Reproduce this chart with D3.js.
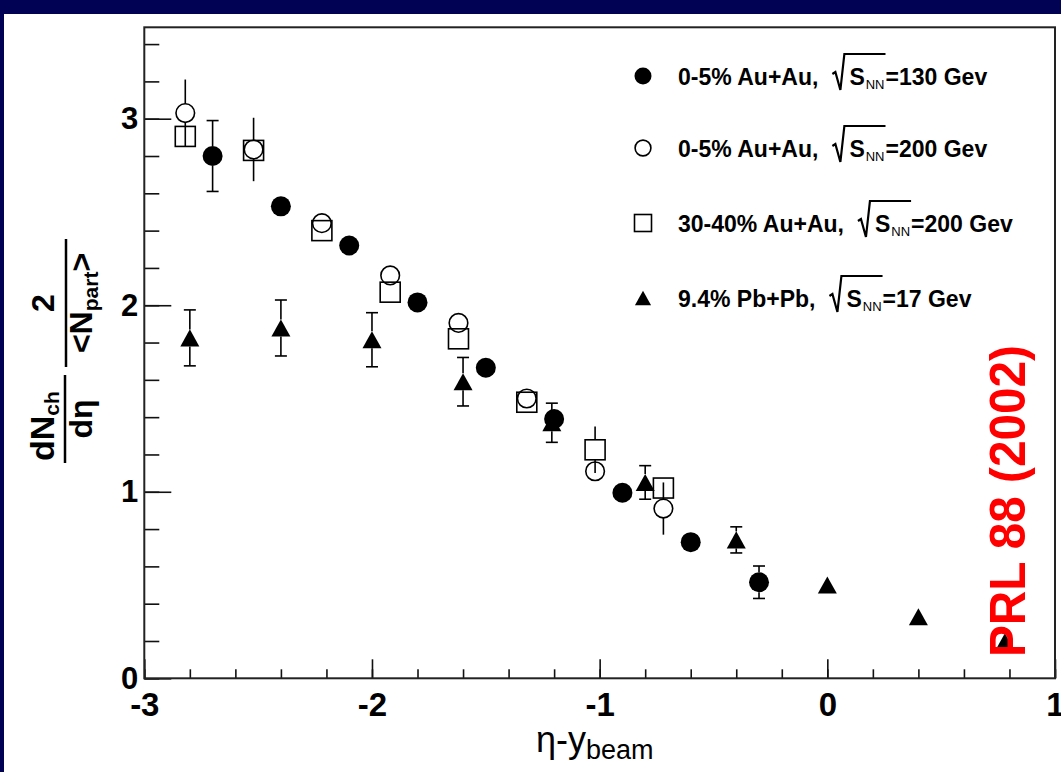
<!DOCTYPE html>
<html>
<head>
<meta charset="utf-8">
<script src="https://cdn.jsdelivr.net/npm/d3@7"></script>
<style>
  html, body { margin: 0; padding: 0; background: #ffffff; }
  svg { display: block; }
  text { font-family: "Liberation Sans", Arial, Helvetica, sans-serif; }
</style>
</head>
<body>
<svg id="chart" width="1061" height="772"></svg>
<script>
// dN_ch/dη · 2/<N_part> versus η - y_beam

// 0-5% Au+Au, sqrt(s_NN) = 130 GeV (filled circles)
const etaAu130 = [-2.7, -2.4, -2.1, -1.8, -1.5, -1.2, -0.9, -0.6, -0.3];
const valAu130 = [2.80, 2.53, 2.32, 2.015, 1.665, 1.39, 0.995, 0.73, 0.515];
const errAu130 = [0.19, 0.04, 0.03, 0.03, 0.03, 0.03, 0.03, 0.03, 0.087];

// 0-5% Au+Au, sqrt(s_NN) = 200 GeV (open circles)
const etaAu200 = [-2.82, -2.52, -2.22, -1.92, -1.62, -1.32, -1.02, -0.72];
const valAu200 = [3.03, 2.835, 2.44, 2.16, 1.905, 1.50, 1.11, 0.91];
const errAu200 = [0.18, 0.17, 0.04, 0.04, 0.04, 0.04, 0.04, 0.14];

// 30-40% Au+Au, sqrt(s_NN) = 200 GeV (open squares)
const etaAu200p = [-2.82, -2.52, -2.22, -1.92, -1.62, -1.32, -1.02, -0.72];
const valAu200p = [2.905, 2.83, 2.40, 2.07, 1.82, 1.48, 1.225, 1.02];
const errAu200p = [0.04, 0.04, 0.04, 0.04, 0.04, 0.04, 0.125, 0.04];

// 9.4% Pb+Pb, sqrt(s_NN) = 17 GeV (filled triangles)
const etaPb17 = [-2.8, -2.4, -2.0, -1.6, -1.21, -0.8, -0.4, 0.0, 0.4, 0.78];
const valPb17 = [1.825, 1.878, 1.815, 1.59, 1.37, 1.05, 0.742, 0.50, 0.33, 0.196];
const errPb17 = [0.15, 0.15, 0.145, 0.13, 0.105, 0.09, 0.07, 0.03, 0.02, 0.02];

// axis ticks
const xMajor = [-3, -2, -1, 0, 1];
const xMinor = d3.range(-3, 1.0001, 0.2).map(v => +v.toFixed(1));
const yMajor = [0, 1, 2, 3];
const yMinor = d3.range(0, 3.41, 0.2).map(v => +v.toFixed(1));

// legend entries
const legendLabels = ["0-5% Au+Au,", "0-5% Au+Au,", "30-40% Au+Au,", "9.4% Pb+Pb,"];
const legendEnergies = ["=130 Gev", "=200 Gev", "=200 Gev", "=17 Gev"];
const legendShapes = ["dot", "circle", "square", "triangle"];

const svg = d3.select("#chart");
const W = 1061, H = 772;

// slide background with navy edge
svg.append("rect").attr("width", W).attr("height", H).attr("fill", "#020255");
svg.append("rect").attr("x", 4).attr("y", 14).attr("width", W - 4).attr("height", H - 14).attr("fill", "#ffffff");

const x = d3.scaleLinear().domain([-3, 1]).range([144.3, 1055]);
const y = d3.scaleLinear().domain([0, 3.49]).range([678.3, 27.3]);

// axes: minor ticks, then major ticks with labels
const axX = svg.append("g").attr("transform", `translate(0,${y(0)})`);
axX.append("g").call(d3.axisBottom(x).tickValues(xMinor).tickSize(-9).tickFormat(""));
const axXMajor = axX.append("g")
  .call(d3.axisBottom(x).tickValues(xMajor).tickSize(-19).tickPadding(14)
    .tickFormat(d => d < 0 ? "-" + Math.abs(d) : String(d)));
const axY = svg.append("g").attr("transform", `translate(${x(-3)},0)`);
axY.append("g").call(d3.axisLeft(y).tickValues(yMinor).tickSize(-15).tickFormat(""));
const axYMajor = axY.append("g")
  .call(d3.axisLeft(y).tickValues(yMajor).tickSize(-27).tickPadding(6).tickFormat(d3.format("d")));
svg.selectAll(".domain").remove();
svg.selectAll(".tick line").attr("stroke", "#111").attr("stroke-width", 1.6);
axXMajor.selectAll(".tick text").attr("font-size", 33).attr("font-weight", "bold").attr("fill", "#000");
axYMajor.selectAll(".tick text").attr("font-size", 31).attr("font-weight", "bold").attr("fill", "#000");

// plot frame
svg.append("rect")
  .attr("x", x(-3)).attr("y", y(3.49))
  .attr("width", x(1) - x(-3)).attr("height", y(0) - y(3.49))
  .attr("fill", "none").attr("stroke", "#222").attr("stroke-width", 2);

// error bars, drawn outside the marker body
function errorBars(xs, vs, es, half, caps) {
  const g = svg.append("g").attr("stroke", "#000").attr("stroke-width", 1.6);
  xs.forEach((xv, i) => {
    const cx = x(xv), cy = y(vs[i]);
    const top = y(vs[i] + es[i]), bot = y(vs[i] - es[i]);
    if (cy - top > half) {
      g.append("line").attr("x1", cx).attr("x2", cx).attr("y1", top).attr("y2", cy - half);
      if (caps) g.append("line").attr("x1", cx - 6).attr("x2", cx + 6).attr("y1", top).attr("y2", top);
    }
    if (bot - cy > half) {
      g.append("line").attr("x1", cx).attr("x2", cx).attr("y1", cy + half).attr("y2", bot);
      if (caps) g.append("line").attr("x1", cx - 6).attr("x2", cx + 6).attr("y1", bot).attr("y2", bot);
    }
  });
}

function triPath(cx, cy, s) {
  return `M${cx - s},${cy + s * 0.9}L${cx + s},${cy + s * 0.9}L${cx},${cy - s * 0.9}Z`;
}

function drawMarker(g, shape, cx, cy, scale) {
  const k = scale || 1;
  if (shape === "dot") {
    g.append("circle").attr("cx", cx).attr("cy", cy).attr("r", 10 * k).attr("fill", "#000");
  } else if (shape === "circle") {
    g.append("circle").attr("cx", cx).attr("cy", cy).attr("r", 9.3 * k)
      .attr("fill", "none").attr("stroke", "#000").attr("stroke-width", 1.6);
  } else if (shape === "square") {
    g.append("rect").attr("x", cx - 10 * k).attr("y", cy - 10 * k)
      .attr("width", 20 * k).attr("height", 20 * k)
      .attr("fill", "none").attr("stroke", "#000").attr("stroke-width", 1.6);
  } else {
    g.append("path").attr("d", triPath(cx, cy, 9.5 * k)).attr("fill", "#000");
  }
}

errorBars(etaPb17, valPb17, errPb17, 8.5, true);
errorBars(etaAu130, valAu130, errAu130, 10, true);
errorBars(etaAu200p, valAu200p, errAu200p, 10, false);
errorBars(etaAu200, valAu200, errAu200, 9.3, false);

const marks = svg.append("g");
etaPb17.forEach((v, i) => drawMarker(marks, "triangle", x(v), y(valPb17[i])));
etaAu130.forEach((v, i) => drawMarker(marks, "dot", x(v), y(valAu130[i])));
etaAu200p.forEach((v, i) => drawMarker(marks, "square", x(v), y(valAu200p[i])));
etaAu200.forEach((v, i) => drawMarker(marks, "circle", x(v), y(valAu200[i])));

// legend
const legend = svg.append("g");
const rowY = [76, 148, 223, 298];
legendLabels.forEach((lab, i) => {
  const cy = rowY[i];
  drawMarker(legend, legendShapes[i], 643, cy, 0.85);
  const base = cy + 8.5;
  const t1 = legend.append("text").attr("x", 678).attr("y", base)
    .attr("font-size", 23).attr("font-weight", "bold").text(lab);
  let cx = 678 + t1.node().getComputedTextLength() + 14;
  // radical sign over S_NN
  const rTop = cy - 22, rBot = cy + 14;
  const sx = cx + 17;
  const sT = legend.append("text").attr("x", sx).attr("y", base)
    .attr("font-size", 23).attr("font-weight", "bold").text("S");
  let nx = sx + sT.node().getComputedTextLength() + 1;
  const nT = legend.append("text").attr("x", nx).attr("y", base + 4)
    .attr("font-size", 13).text("NN");
  const ex = nx + nT.node().getComputedTextLength() + 1;
  legend.append("path")
    .attr("d", `M${cx},${cy - 2}L${cx + 3},${cy - 4}L${cx + 8},${rBot}L${cx + 12},${rTop}L${ex},${rTop}`)
    .attr("fill", "none").attr("stroke", "#000").attr("stroke-width", 2.2);
  legend.append("text").attr("x", ex).attr("y", base)
    .attr("font-size", 23).attr("font-weight", "bold").text(legendEnergies[i]);
});

// y-axis title: dN_ch/dη · 2/<N_part>, rotated
const yt = svg.append("g").attr("transform", "translate(65,463) rotate(-90)");
yt.append("line").attr("x1", 0).attr("x2", 88).attr("y1", 0).attr("y2", 0)
  .attr("stroke", "#000").attr("stroke-width", 2.5);
const num1 = yt.append("text").attr("x", 2).attr("y", -11).attr("font-size", 34).attr("font-weight", "bold");
num1.append("tspan").text("dN");
num1.append("tspan").attr("font-size", 21).attr("dy", 5).text("ch");
yt.append("text").attr("x", 44).attr("y", 27).attr("text-anchor", "middle")
  .attr("font-size", 32).attr("font-weight", "bold").text("dη");
yt.append("line").attr("x1", 96).attr("x2", 224).attr("y1", 1).attr("y2", 1)
  .attr("stroke", "#000").attr("stroke-width", 2.5);
yt.append("text").attr("x", 160).attr("y", -11).attr("text-anchor", "middle")
  .attr("font-size", 32).attr("font-weight", "bold").text("2");
const den2 = yt.append("text").attr("x", 160).attr("y", 27).attr("text-anchor", "middle")
  .attr("font-size", 32).attr("font-weight", "bold");
den2.append("tspan").text("<N");
den2.append("tspan").attr("font-size", 21).attr("dy", 6).text("part");
den2.append("tspan").attr("dy", -6).text(">");

// x-axis title: η - y_beam
const xt = svg.append("text").attr("x", 536).attr("y", 752).attr("font-size", 36);
xt.append("tspan").text("η-y");
xt.append("tspan").attr("font-size", 27).attr("dy", 7).text("beam");

// reference note
svg.append("text").attr("transform", "translate(1025,657) rotate(-90)")
  .attr("font-size", 50).attr("font-weight", "bold").attr("fill", "#ff0000")
  .attr("textLength", 312).attr("lengthAdjust", "spacingAndGlyphs")
  .text("PRL 88 (2002)");
</script>
</body>
</html>
